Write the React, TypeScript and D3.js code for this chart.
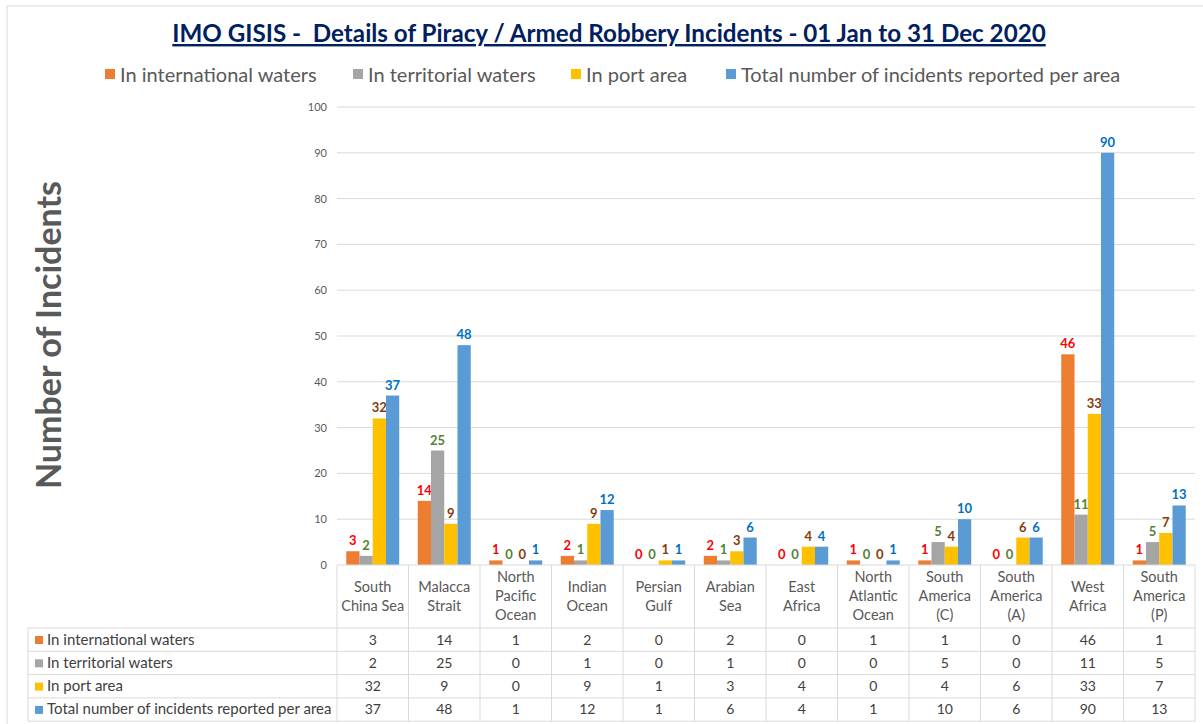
import React from "react";
import * as d3 from "d3";

const areas = [
  ["South", "China Sea"],
  ["Malacca", "Strait"],
  ["North", "Pacific", "Ocean"],
  ["Indian", "Ocean"],
  ["Persian", "Gulf"],
  ["Arabian", "Sea"],
  ["East", "Africa"],
  ["North", "Atlantic", "Ocean"],
  ["South", "America", "(C)"],
  ["South", "America", "(A)"],
  ["West", "Africa"],
  ["South", "America", "(P)"],
];

const seriesNames = [
  "In international waters",
  "In territorial waters",
  "In port area",
  "Total number of incidents reported per area",
];

const international = [3, 14, 1, 2, 0, 2, 0, 1, 1, 0, 46, 1];
const territorial = [2, 25, 0, 1, 0, 1, 0, 0, 5, 0, 11, 5];
const port = [32, 9, 0, 9, 1, 3, 4, 0, 4, 6, 33, 7];
const total = [37, 48, 1, 12, 1, 6, 4, 1, 10, 6, 90, 13];

const yTicks = [0, 10, 20, 30, 40, 50, 60, 70, 80, 90, 100];

const barColors = ["#ED7D31", "#A5A5A5", "#FFC000", "#5B9BD5"];
const labelColors = ["#FF0000", "#548235", "#843C0C", "#0070C0"];

const W = 1203;
const H = 724;
const font = "Lato, 'Open Sans', sans-serif";

export default function App() {
  const series = [international, territorial, port, total];
  const keys = areas.map((_, i) => String(i));

  const x = d3.scaleBand().domain(keys).range([337, 1195]).paddingInner(0).paddingOuter(0);
  const inner = d3
    .scaleBand()
    .domain(d3.range(4).map(String))
    .range([0, x.bandwidth()])
    .paddingOuter(0.7)
    .paddingInner(0);
  const y = d3.scaleLinear().domain([0, 100]).range([565, 107]);

  const tableTop = 565;
  const headerBottom = 628;
  const rowH = 23.3;
  const tableLeft = 28;
  const gridColor = "#d9d9d9";

  // legend items
  const legendX = [105, 353, 571, 726];

  return (
    <svg width={W} height={H} style={{ position: "absolute", left: 0, top: 0 }}>
      <rect x={0} y={0} width={W} height={H} fill="#fff" />
      <rect x={7} y={6} width={1200} height={730} fill="#fff" stroke="#d9d9d9" />

      {/* title */}
      <text
        x={609}
        y={42}
        textAnchor="middle"
        fontFamily={font}
        fontWeight="bold"
        fontSize={24.2}
        fill="#002060"
        textDecoration="underline"
        style={{ whiteSpace: "pre" }}
      >
        IMO GISIS -  Details of Piracy / Armed Robbery Incidents - 01 Jan to 31 Dec 2020
      </text>

      {/* legend */}
      {seriesNames.map((name, i) => (
        <g key={name}>
          <rect x={legendX[i]} y={69} width={10} height={10} fill={barColors[i]} />
          <text x={legendX[i] + 15} y={82} fontFamily={font} fontSize={20} fill="#595959">
            {name}
          </text>
        </g>
      ))}

      {/* y axis title */}
      <text
        transform="translate(61,335) rotate(-90)"
        textAnchor="middle"
        fontFamily={font}
        fontWeight="bold"
        fontSize={34}
        fill="#595959"
      >
        Number of Incidents
      </text>

      {/* gridlines and ticks */}
      {yTicks.map((t) => (
        <g key={t}>
          {t > 0 && (
            <line x1={337} x2={1195} y1={y(t)} y2={y(t)} stroke="#d9d9d9" strokeWidth={1} />
          )}
          <text
            x={327}
            y={y(t) + 4}
            textAnchor="end"
            fontFamily={font}
            fontSize={11}
            fill="#595959"
          >
            {t}
          </text>
        </g>
      ))}

      {/* bars */}
      {areas.map((_, ci) => (
        <g key={ci} transform={`translate(${x(String(ci))},0)`}>
          {series.map((vals, si) => {
            const bx = inner(String(si)) as number;
            const v = vals[ci];
            return (
              <g key={si}>
                <rect x={bx} y={y(v)} width={inner.bandwidth()} height={y(0) - y(v)} fill={barColors[si]} />
                <text
                  x={bx + inner.bandwidth() / 2}
                  y={y(v) - 6}
                  textAnchor="middle"
                  fontFamily={font}
                  fontWeight="bold"
                  fontSize={13}
                  fill={labelColors[si]}
                >
                  {v}
                </text>
              </g>
            );
          })}
        </g>
      ))}

      {/* data table */}
      <g fontFamily={font}>
        <line x1={337} x2={1195} y1={tableTop} y2={tableTop} stroke={gridColor} />
        {d3.range(13).map((i) => {
          const xx = i < 12 ? (x(String(i)) as number) : 1195;
          return <line key={i} x1={xx} x2={xx} y1={tableTop} y2={headerBottom + rowH * 4} stroke={gridColor} />;
        })}
        <line x1={tableLeft} x2={tableLeft} y1={headerBottom} y2={headerBottom + rowH * 4} stroke={gridColor} />
        {d3.range(5).map((r) => (
          <line
            key={r}
            x1={tableLeft}
            x2={1195}
            y1={headerBottom + r * rowH}
            y2={headerBottom + r * rowH}
            stroke={gridColor}
          />
        ))}
        {areas.map((lines, ci) => {
          const cx = (x(String(ci)) as number) + x.bandwidth() / 2;
          const startY = lines.length === 3 ? 582 : 592;
          return (
            <text key={ci} textAnchor="middle" fontSize={14.5} fill="#595959">
              {lines.map((l, li) => (
                <tspan key={li} x={cx} y={startY + li * 19}>
                  {l}
                </tspan>
              ))}
            </text>
          );
        })}
        {series.map((vals, si) => {
          const ry = headerBottom + si * rowH;
          return (
            <g key={si}>
              <rect x={35} y={ry + 8} width={8} height={8} fill={barColors[si]} />
              <text x={47} y={ry + 16.5} fontSize={15} fill="#404040">
                {seriesNames[si]}
              </text>
              {vals.map((v, ci) => (
                <text
                  key={ci}
                  x={(x(String(ci)) as number) + x.bandwidth() / 2}
                  y={ry + 16.5}
                  textAnchor="middle"
                  fontSize={14}
                  fill="#404040"
                >
                  {v}
                </text>
              ))}
            </g>
          );
        })}
      </g>
    </svg>
  );
}
